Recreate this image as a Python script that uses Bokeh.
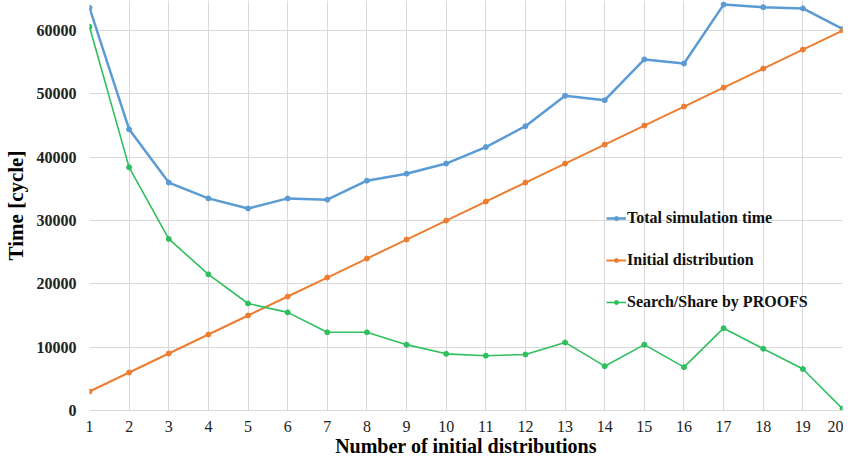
from bokeh.plotting import figure
from bokeh.models import Range1d, Legend, LegendItem, FixedTicker
from bokeh.embed import file_html
from bokeh.resources import INLINE

x_vals = list(range(1, 21))
total_time = [63600, 44400, 36000, 33500, 31900, 33500, 33300, 36300, 37400, 39000,
              41600, 44900, 49700, 49000, 55450, 54800, 64100, 63700, 63500, 60250]
initial_dist = [3000, 6000, 9000, 12000, 15000, 18000, 21000, 24000, 27000, 30000,
                33000, 36000, 39000, 42000, 45000, 48000, 51000, 54000, 57000, 60000]
search_share = [60600, 38400, 27100, 21500, 16900, 15500, 12350, 12350, 10400, 8950,
                8650, 8850, 10750, 7000, 10400, 6850, 13000, 9750, 6550, 300]
y_ticks = [0, 10000, 20000, 30000, 40000, 50000, 60000]
series_names = ["Total simulation time", "Initial distribution", "Search/Share by PROOFS"]

FONT = "Liberation Serif"

p = figure(width=843, height=463, output_backend="svg", toolbar_location=None,
           x_range=Range1d(1, 20), y_range=Range1d(0, 64750))
p.min_border_left = 82
p.min_border_right = 1
p.min_border_top = 0
p.min_border_bottom = 53
p.outline_line_color = None

p.xaxis.ticker = FixedTicker(ticks=x_vals)
p.yaxis.ticker = FixedTicker(ticks=y_ticks)
p.xgrid.ticker = FixedTicker(ticks=x_vals)
p.ygrid.ticker = FixedTicker(ticks=y_ticks)
p.grid.grid_line_color = "#d9d9d9"
p.grid.grid_line_width = 1

for ax in (p.xaxis, p.yaxis):
    ax.major_tick_line_color = None
    ax.minor_tick_line_color = None
    ax.major_tick_out = 0
    ax.major_tick_in = 0
    ax.minor_tick_out = 0
    ax.minor_tick_in = 0
    ax.major_label_text_font = FONT
    ax.major_label_text_color = "#222222"
    ax.major_label_text_font_size = "16px"
    ax.axis_label_text_font = FONT
    ax.axis_label_text_font_style = "bold"
    ax.axis_label_text_color = "#000000"
p.xaxis.axis_label_text_font_size = "20px"
p.yaxis.axis_label_text_font_size = "21px"
p.yaxis.axis_line_color = None
p.xaxis.axis_line_color = "#d9d9d9"
p.yaxis.major_label_text_font_style = "bold"
p.xaxis.major_label_standoff = 10
p.yaxis.major_label_standoff = 13
p.xaxis.axis_label = "Number of initial distributions"
p.yaxis.axis_label = "Time [cycle]"
p.xaxis.axis_label_standoff = 0
p.yaxis.axis_label_standoff = 6

colors = ["#5b9bd5", "#ed7d31", "#2fbf5f"]
widths = [2.5, 2.0, 1.6]
data = [total_time, initial_dist, search_share]
items = []
for name, ys, c, w in zip(series_names, data, colors, widths):
    l = p.line(x_vals, ys, line_color=c, line_width=w)
    s = p.scatter(x_vals, ys, size=5, fill_color=c, line_color=c)
    items.append(LegendItem(label=name, renderers=[l, s]))

legend = Legend(items=items, location=(517, 98), orientation="vertical")
legend.label_text_font = FONT
legend.label_text_font_style = "bold"
legend.label_text_font_size = "16px"
legend.label_text_color = "#111111"
legend.glyph_width = 20
legend.glyph_height = 10
legend.label_height = 20
legend.label_standoff = 1
legend.spacing = 22
legend.padding = 0
legend.margin = 0
legend.border_line_color = None
legend.background_fill_alpha = 0
p.add_layout(legend, "center")

open("out.html", "w").write(file_html(p, INLINE))
